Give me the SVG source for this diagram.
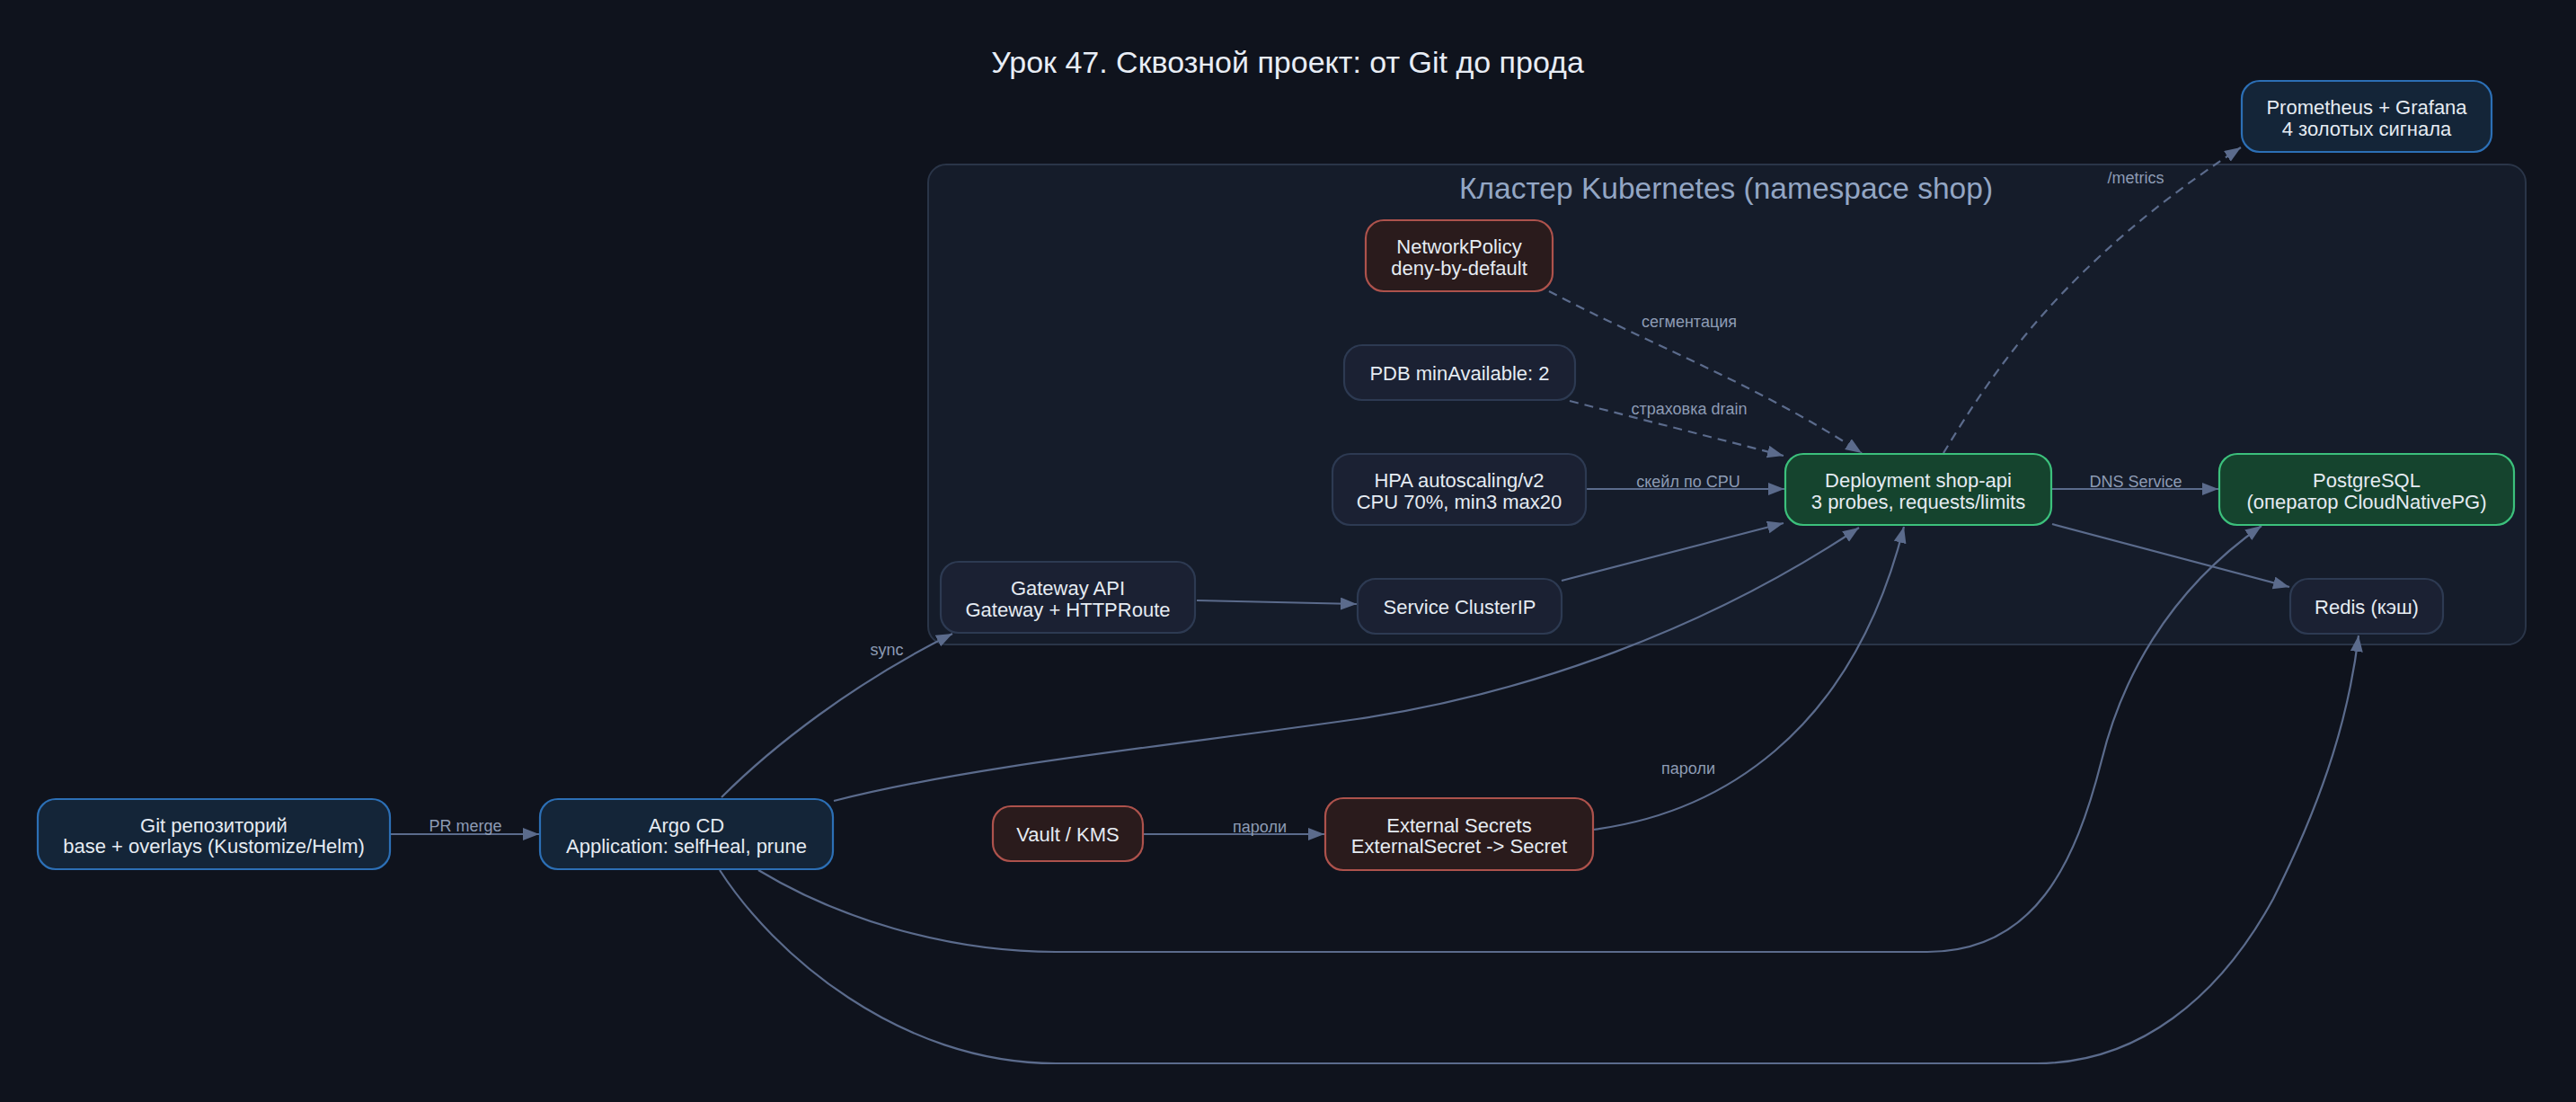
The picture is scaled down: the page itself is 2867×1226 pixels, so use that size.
<svg xmlns="http://www.w3.org/2000/svg" width="2867" height="1226" viewBox="0 0 2867 1226">
<style>
.bg{fill:#0f131d}
.cl{fill:#151c2a;stroke:#2a3548;stroke-width:2}
.n rect{stroke-width:2.2}
.blue rect{fill:#142538;stroke:#2c6fb5}
.dark rect{fill:#1b2133;stroke:#2d3a52}
.green rect{fill:#15442e;stroke:#3cc07c}
.red rect{fill:#2a1b1c;stroke:#ad524c}
.n text{font-family:"Liberation Sans",Arial,sans-serif;font-size:22px;fill:#e5ebf2;text-anchor:middle}
.e path{fill:none;stroke:#5b6b8c;stroke-width:2.2}
.e path.d{stroke-dasharray:10 7}
.lbl{font-family:"Liberation Sans",Arial,sans-serif;font-size:18px;fill:#8d9bb4;text-anchor:middle}
.title{font-family:"Liberation Sans",Arial,sans-serif;font-size:34px;fill:#e8edf5;text-anchor:middle}
.ctitle{font-family:"Liberation Sans",Arial,sans-serif;font-size:33.5px;fill:#93a6c4;text-anchor:middle}
</style>
<defs>
<marker id="ah" markerUnits="userSpaceOnUse" markerWidth="20" markerHeight="16" refX="18" refY="7" orient="auto">
<path d="M0,0 L18,7 L0,14 z" fill="#5b6b8c"/>
</marker>
</defs>
<rect class="bg" x="0" y="0" width="2867" height="1226"/>
<text class="title" x="1433" y="81">Урок 47. Сквозной проект: от Git до прода</text>
<g id="cluster">
<rect class="cl" x="1033" y="183" width="1778" height="534" rx="20"/>
<text class="ctitle" x="1921" y="221">Кластер Kubernetes (namespace shop)</text>
</g>
<g id="edges" class="e">
<path d="M435,928 L600,928" marker-end="url(#ah)"/>
<path d="M803,887 C860,830 950,760 1060,705" marker-end="url(#ah)"/>
<path d="M928,891 C1080,852 1300,830 1510,800 C1700,772 1900,700 2069,587" marker-end="url(#ah)"/>
<path d="M844,968 C930,1020 1050,1059 1175,1059 L2145,1059 C2265,1059 2310,960 2339,846 C2360,760 2410,660 2517,585" marker-end="url(#ah)"/>
<path d="M801,968 C860,1060 1000,1183 1175,1183 L2267,1183 C2380,1183 2470,1110 2530,1000 C2590,880 2615,790 2625,707" marker-end="url(#ah)"/>
<path d="M1332,668 L1510,672" marker-end="url(#ah)"/>
<path d="M1738,646 L1985,582" marker-end="url(#ah)"/>
<path d="M1766,544 L1986,544" marker-end="url(#ah)"/>
<path class="d" d="M1747,446 L1985,507" marker-end="url(#ah)"/>
<path class="d" d="M1724,324 C1830,380 1960,430 2072,504" marker-end="url(#ah)"/>
<path class="d" d="M2163,504 C2220,410 2300,290 2494,164" marker-end="url(#ah)"/>
<path d="M2284,544 L2469,544" marker-end="url(#ah)"/>
<path d="M2284,583 L2548,653" marker-end="url(#ah)"/>
<path d="M1272,928 L1474,928" marker-end="url(#ah)"/>
<path d="M1773,923 C1910,905 2060,820 2119,586" marker-end="url(#ah)"/>
<text class="lbl" x="518" y="925">PR merge</text>
<text class="lbl" x="987" y="729">sync</text>
<text class="lbl" x="1880" y="364">сегментация</text>
<text class="lbl" x="1880" y="461">страховка drain</text>
<text class="lbl" x="1879" y="542">скейл по CPU</text>
<text class="lbl" x="2377" y="204">/metrics</text>
<text class="lbl" x="2377" y="542">DNS Service</text>
<text class="lbl" x="1402" y="926">пароли</text>
<text class="lbl" x="1879" y="861">пароли</text>
</g>
<g id="git" class="n blue"><rect x="42" y="889" width="392" height="78" rx="20"/><text x="238" y="925.5">Git репозиторий</text><text x="238" y="949">base + overlays (Kustomize/Helm)</text></g>
<g id="argo" class="n blue"><rect x="601" y="889" width="326" height="78" rx="20"/><text x="764" y="925.5">Argo CD</text><text x="764" y="949">Application: selfHeal, prune</text></g>
<g id="gateway" class="n dark"><rect x="1047" y="625" width="283" height="79" rx="20"/><text x="1188.5" y="662">Gateway API</text><text x="1188.5" y="685.5">Gateway + HTTPRoute</text></g>
<g id="service" class="n dark"><rect x="1511" y="644" width="227" height="61" rx="20"/><text x="1624.5" y="682.5">Service ClusterIP</text></g>
<g id="vault" class="n red"><rect x="1105" y="897" width="167" height="61" rx="20"/><text x="1188.5" y="935.5">Vault / KMS</text></g>
<g id="extsecrets" class="n red"><rect x="1475" y="888" width="298" height="80" rx="20"/><text x="1624" y="925.5">External Secrets</text><text x="1624" y="949">ExternalSecret -&gt; Secret</text></g>
<g id="netpol" class="n red"><rect x="1520" y="245" width="208" height="79" rx="20"/><text x="1624" y="282">NetworkPolicy</text><text x="1624" y="305.5">deny-by-default</text></g>
<g id="pdb" class="n dark"><rect x="1496" y="384" width="257" height="61" rx="20"/><text x="1624.5" y="422.5">PDB minAvailable: 2</text></g>
<g id="hpa" class="n dark"><rect x="1483" y="505" width="282" height="79" rx="20"/><text x="1624" y="542">HPA autoscaling/v2</text><text x="1624" y="565.5">CPU 70%, min3 max20</text></g>
<g id="deployment" class="n green"><rect x="1987" y="505" width="296" height="79" rx="20"/><text x="2135" y="542">Deployment shop-api</text><text x="2135" y="565.5">3 probes, requests/limits</text></g>
<g id="postgres" class="n green"><rect x="2470" y="505" width="328" height="79" rx="20"/><text x="2634" y="542">PostgreSQL</text><text x="2634" y="565.5">(оператор CloudNativePG)</text></g>
<g id="redis" class="n dark"><rect x="2549" y="644" width="170" height="61" rx="20"/><text x="2634" y="682.5">Redis (кэш)</text></g>
<g id="prometheus" class="n blue"><rect x="2495" y="90" width="278" height="79" rx="20"/><text x="2634" y="127">Prometheus + Grafana</text><text x="2634" y="150.5">4 золотых сигнала</text></g>
</svg>
